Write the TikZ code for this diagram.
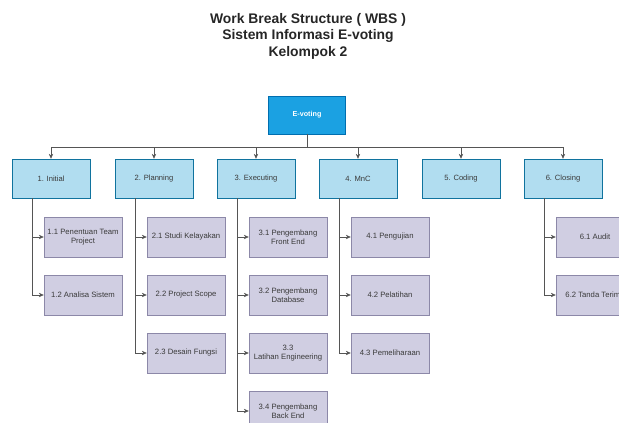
\documentclass[tikz,border=0pt]{standalone}
\usepackage{fontspec}
\setmainfont{Liberation Sans}
\usetikzlibrary{arrows.meta}
\definecolor{rootfill}{HTML}{1BA1E2}
\definecolor{rootdraw}{HTML}{006EAF}
\definecolor{lvfill}{HTML}{B1DDF0}
\definecolor{lvdraw}{HTML}{10739E}
\definecolor{chfill}{HTML}{D0CEE2}
\definecolor{chdraw}{HTML}{8C88A8}
\definecolor{txt}{HTML}{3A3A3A}
\definecolor{ln}{HTML}{555555}
\tikzset{
  rootbox/.style={draw=rootdraw, fill=rootfill, minimum width=77pt, minimum height=38pt, inner sep=1pt, text=white, font=\bfseries\fontsize{7.2}{8.6}\selectfont},
  lvbox/.style={draw=lvdraw, fill=lvfill, minimum width=78pt, minimum height=39pt, inner sep=1pt, text=txt, font=\fontsize{7.6}{9}\selectfont},
  chbox/.style={draw=chdraw, fill=chfill, minimum width=78pt, minimum height=40pt, inner sep=1pt, align=center, text=txt, font=\fontsize{7.7}{9}\selectfont},
  conn/.style={draw=ln, line width=0.6pt, -{Stealth[length=5pt,width=4.4pt]}}
}
\begin{document}
\begin{tikzpicture}[x=1pt,y=1pt]
\useasboundingbox (0,0) rectangle (619,-423);
\node[align=center, text=black!85, font=\bfseries\fontsize{13.9}{16.5}\selectfont] (title) at (308,-36) {Work Break Structure ( WBS )\\Sistem Informasi E-voting\\Kelompok 2};
\node[rootbox] (root) at (307,-115) {E-voting};
% level 1
\node[lvbox] (l1) at (51,-178.5) {1. Initial};
\node[lvbox] (l2) at (154,-178.5) {2. Planning};
\node[lvbox] (l3) at (256,-178.5) {3. Executing};
\node[lvbox] (l4) at (358,-178.5) {4. MnC};
\node[lvbox] (l5) at (461,-178.5) {5. Coding};
\node[lvbox] (l6) at (563,-178.5) {6. Closing};
% children
\node[chbox] (c11) at (83,-237) {1.1 Penentuan Team\\Project};
\node[chbox] (c12) at (83,-295) {1.2 Analisa Sistem};
\node[chbox] (c21) at (186,-237) {2.1 Studi Kelayakan};
\node[chbox] (c22) at (186,-295) {2.2 Project Scope};
\node[chbox] (c23) at (186,-353) {2.3 Desain Fungsi};
\node[chbox] (c31) at (288,-237) {3.1 Pengembang\\Front End};
\node[chbox] (c32) at (288,-295) {3.2 Pengembang\\Database};
\node[chbox] (c33) at (288,-353) {3.3\\Latihan Engineering};
\node[chbox] (c34) at (288,-411) {3.4 Pengembang\\Back End};
\node[chbox] (c41) at (390,-237) {4.1 Pengujian};
\node[chbox] (c42) at (390,-295) {4.2 Pelatihan};
\node[chbox] (c43) at (390,-353) {4.3 Pemeliharaan};
\node[chbox] (c61) at (595,-237) {6.1 Audit};
\node[chbox] (c62) at (595,-295) {6.2 Tanda Terima};
% root to level 1
\foreach \l in {l1,l2,l3,l4,l5,l6}{
  \draw[conn] (root.south) -- ++(0,-13) -| (\l.north);
}
% level 1 to children
\foreach \p/\c in {l1/c11,l1/c12,l2/c21,l2/c22,l2/c23,l3/c31,l3/c32,l3/c33,l3/c34,l4/c41,l4/c42,l4/c43,l6/c61,l6/c62}{
  \draw[conn] (\p.south west) ++(20,0) |- (\c.west);
}
\end{tikzpicture}
\end{document}
